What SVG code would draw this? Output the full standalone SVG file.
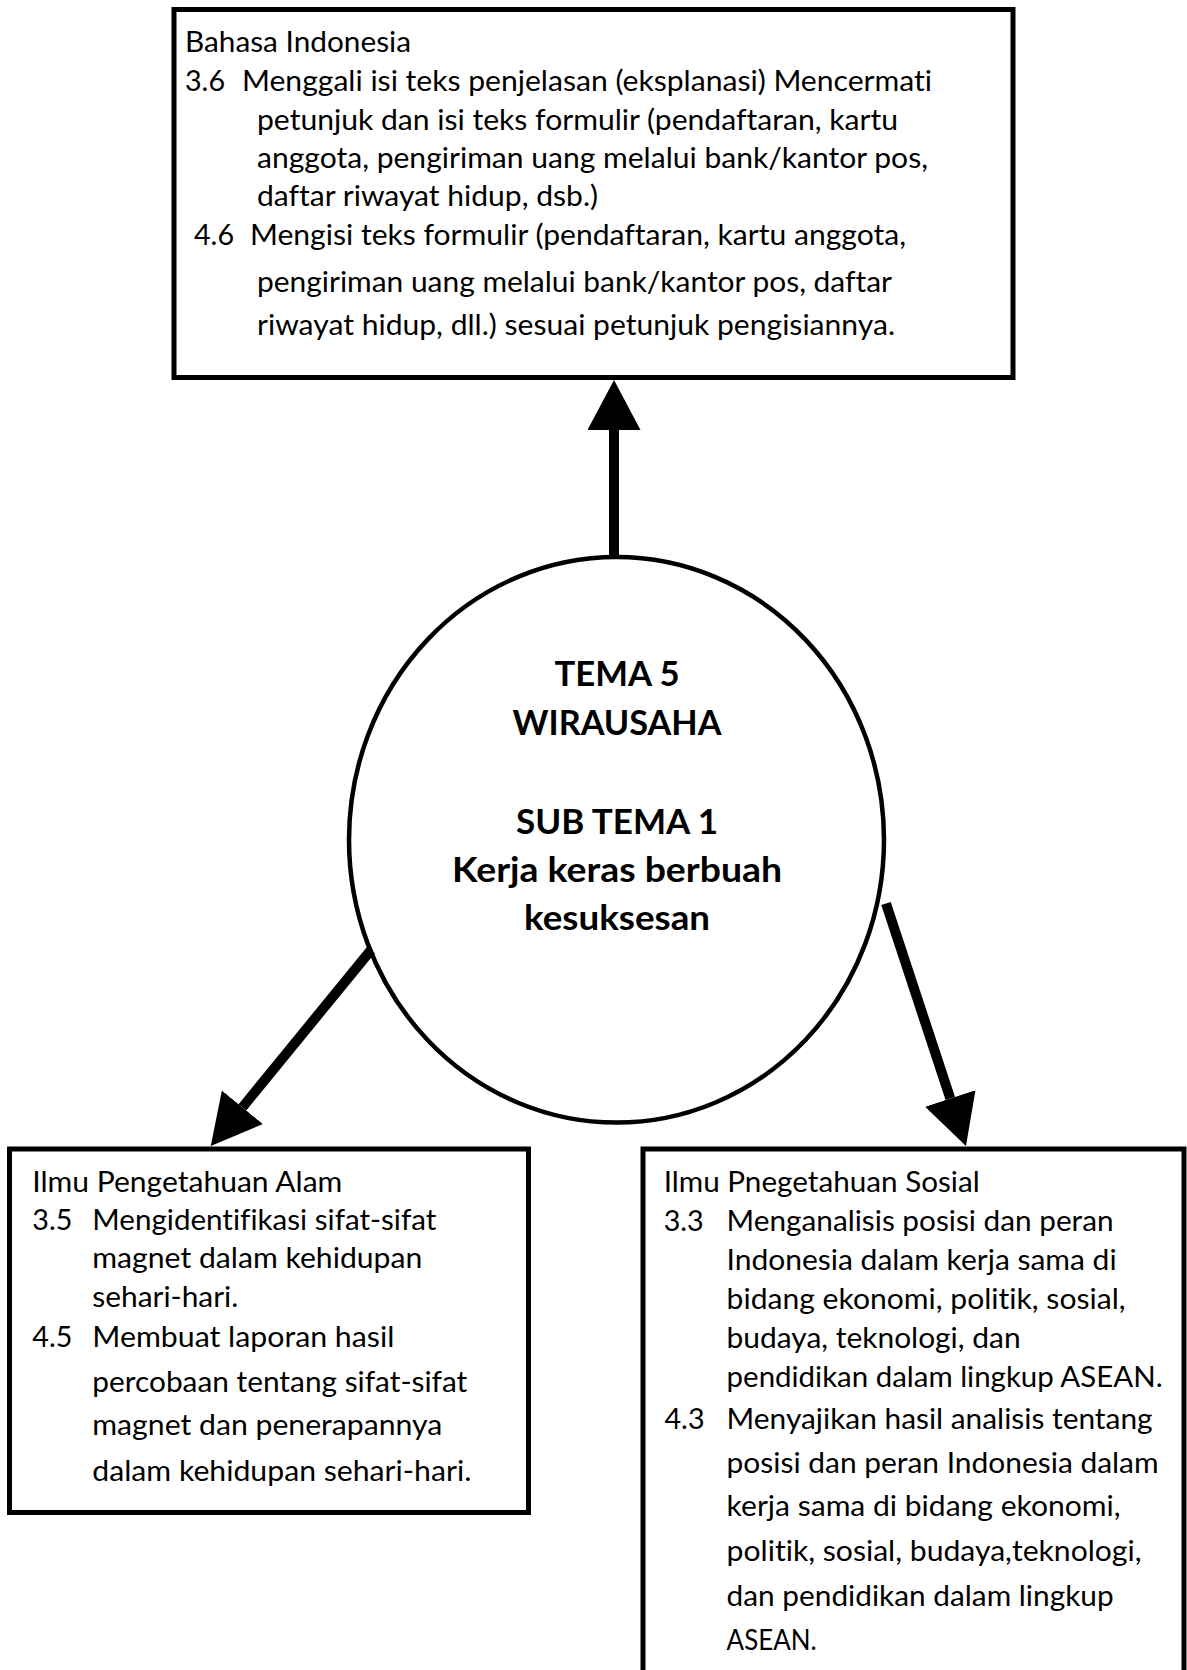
<svg xmlns="http://www.w3.org/2000/svg" width="1187" height="1670" viewBox="0 0 1187 1670">
  <style>
    .box { fill: #ffffff; stroke: #000000; stroke-width: 5; }
    .circ { fill: #ffffff; stroke: #000000; stroke-width: 4.5; }
    .t { font-family: Lato, "Open Sans", "Liberation Sans", sans-serif; font-size: 29px; fill: #000000; font-variant-ligatures: none; font-feature-settings: "liga" 0, "clig" 0, "dlig" 0; }
    .b { font-family: Lato, "Open Sans", "Liberation Sans", sans-serif; font-size: 35px; font-weight: bold; fill: #000000; text-anchor: middle; font-variant-ligatures: none; font-feature-settings: "liga" 0, "clig" 0, "dlig" 0; }
    .conn { stroke: #000000; stroke-width: 10; stroke-linecap: butt; fill: none; marker-end: url(#head); }
  </style>
  <defs>
    <marker id="head" viewBox="0 0 50 53" refX="0" refY="26.5" markerWidth="50" markerHeight="53" markerUnits="userSpaceOnUse" orient="auto">
      <path d="M0,0 L50,26.5 L0,53 Z" fill="#000000"/>
    </marker>
  </defs>
  <rect x="0" y="0" width="1187" height="1670" fill="#ffffff"/>

  <g id="node-bahasa-indonesia">
    <rect class="box" x="174" y="9.5" width="839" height="368"/>
    <text class="t" x="185" y="51.7" textLength="226" lengthAdjust="spacingAndGlyphs">Bahasa Indonesia</text>
    <text class="t" x="185" y="90.7" textLength="40" lengthAdjust="spacingAndGlyphs">3.6</text>
    <text class="t" x="242" y="90.7" textLength="690" lengthAdjust="spacingAndGlyphs">Menggali isi teks penjelasan (eksplanasi) Mencermati</text>
    <text class="t" x="257" y="130" textLength="641" lengthAdjust="spacingAndGlyphs">petunjuk dan isi teks formulir (pendaftaran, kartu</text>
    <text class="t" x="257" y="167.7" textLength="671" lengthAdjust="spacingAndGlyphs">anggota, pengiriman uang melalui bank/kantor pos,</text>
    <text class="t" x="257" y="205.7" textLength="341" lengthAdjust="spacingAndGlyphs">daftar riwayat hidup, dsb.)</text>
    <text class="t" x="194" y="245" textLength="40" lengthAdjust="spacingAndGlyphs">4.6</text>
    <text class="t" x="250" y="245" textLength="656" lengthAdjust="spacingAndGlyphs">Mengisi teks formulir (pendaftaran, kartu anggota,</text>
    <text class="t" x="257" y="291.7" textLength="635" lengthAdjust="spacingAndGlyphs">pengiriman uang melalui bank/kantor pos, daftar</text>
    <text class="t" x="257" y="335" textLength="638" lengthAdjust="spacingAndGlyphs">riwayat hidup, dll.) sesuai petunjuk pengisiannya.</text>
  </g>

  <g id="node-tema">
    <ellipse class="circ" cx="616.5" cy="839.8" rx="267.5" ry="282.8"/>
    <text class="b" x="617" y="686.4" textLength="125" lengthAdjust="spacingAndGlyphs">TEMA 5</text>
    <text class="b" x="617" y="735.3" textLength="209" lengthAdjust="spacingAndGlyphs">WIRAUSAHA</text>
    <text class="b" x="617" y="833.5" textLength="202" lengthAdjust="spacingAndGlyphs">SUB TEMA 1</text>
    <text class="b" x="617" y="881.7" textLength="330" lengthAdjust="spacingAndGlyphs">Kerja keras berbuah</text>
    <text class="b" x="617" y="930" textLength="186" lengthAdjust="spacingAndGlyphs">kesuksesan</text>
  </g>

  <g id="node-ipa">
    <rect class="box" x="9.5" y="1149" width="519" height="363.5"/>
    <text class="t" x="32.3" y="1191.7" textLength="310" lengthAdjust="spacingAndGlyphs">Ilmu Pengetahuan Alam</text>
    <text class="t" x="32.3" y="1230" textLength="40" lengthAdjust="spacingAndGlyphs">3.5</text>
    <text class="t" x="92.3" y="1230" textLength="344" lengthAdjust="spacingAndGlyphs">Mengidentifikasi sifat-sifat</text>
    <text class="t" x="92.3" y="1268.3" textLength="330" lengthAdjust="spacingAndGlyphs">magnet dalam kehidupan</text>
    <text class="t" x="92.3" y="1306.7" textLength="146" lengthAdjust="spacingAndGlyphs">sehari-hari.</text>
    <text class="t" x="32.3" y="1346.7" textLength="40" lengthAdjust="spacingAndGlyphs">4.5</text>
    <text class="t" x="92.3" y="1346.7" textLength="302" lengthAdjust="spacingAndGlyphs">Membuat laporan hasil</text>
    <text class="t" x="92.3" y="1391.5" textLength="375" lengthAdjust="spacingAndGlyphs">percobaan tentang sifat-sifat</text>
    <text class="t" x="92.3" y="1435.3" textLength="350" lengthAdjust="spacingAndGlyphs">magnet dan penerapannya</text>
    <text class="t" x="92.3" y="1481" textLength="379" lengthAdjust="spacingAndGlyphs">dalam kehidupan sehari-hari.</text>
  </g>

  <g id="node-ips">
    <rect class="box" x="643" y="1149" width="541" height="600"/>
    <text class="t" x="663.7" y="1191.9" textLength="316" lengthAdjust="spacingAndGlyphs">Ilmu Pnegetahuan Sosial</text>
    <text class="t" x="663.7" y="1231" textLength="40" lengthAdjust="spacingAndGlyphs">3.3</text>
    <text class="t" x="726.6" y="1231" textLength="387" lengthAdjust="spacingAndGlyphs">Menganalisis posisi dan peran</text>
    <text class="t" x="726.6" y="1270" textLength="390" lengthAdjust="spacingAndGlyphs">Indonesia dalam kerja sama di</text>
    <text class="t" x="726.6" y="1309" textLength="399" lengthAdjust="spacingAndGlyphs">bidang ekonomi, politik, sosial,</text>
    <text class="t" x="726.6" y="1347.5" textLength="294" lengthAdjust="spacingAndGlyphs">budaya, teknologi, dan</text>
    <text class="t" x="726.6" y="1386.5" textLength="436" lengthAdjust="spacingAndGlyphs">pendidikan dalam lingkup ASEAN.</text>
    <text class="t" x="664.5" y="1428.7" textLength="40" lengthAdjust="spacingAndGlyphs">4.3</text>
    <text class="t" x="726.6" y="1428.7" textLength="426" lengthAdjust="spacingAndGlyphs">Menyajikan hasil analisis tentang</text>
    <text class="t" x="726.6" y="1473" textLength="432" lengthAdjust="spacingAndGlyphs">posisi dan peran Indonesia dalam</text>
    <text class="t" x="726.6" y="1516" textLength="394" lengthAdjust="spacingAndGlyphs">kerja sama di bidang ekonomi,</text>
    <text class="t" x="726.6" y="1561" textLength="415" lengthAdjust="spacingAndGlyphs">politik, sosial, budaya,teknologi,</text>
    <text class="t" x="726.6" y="1606" textLength="387" lengthAdjust="spacingAndGlyphs">dan pendidikan dalam lingkup</text>
    <text class="t" x="726.6" y="1650" textLength="90" lengthAdjust="spacingAndGlyphs">ASEAN.</text>
  </g>

  <g id="connectors">
    <line class="conn" x1="614" y1="557" x2="614" y2="430"/>
    <line class="conn" x1="371" y1="950" x2="242.4" y2="1107.3"/>
    <line class="conn" x1="886" y1="903.5" x2="950.3" y2="1098.5"/>
  </g>
</svg>
